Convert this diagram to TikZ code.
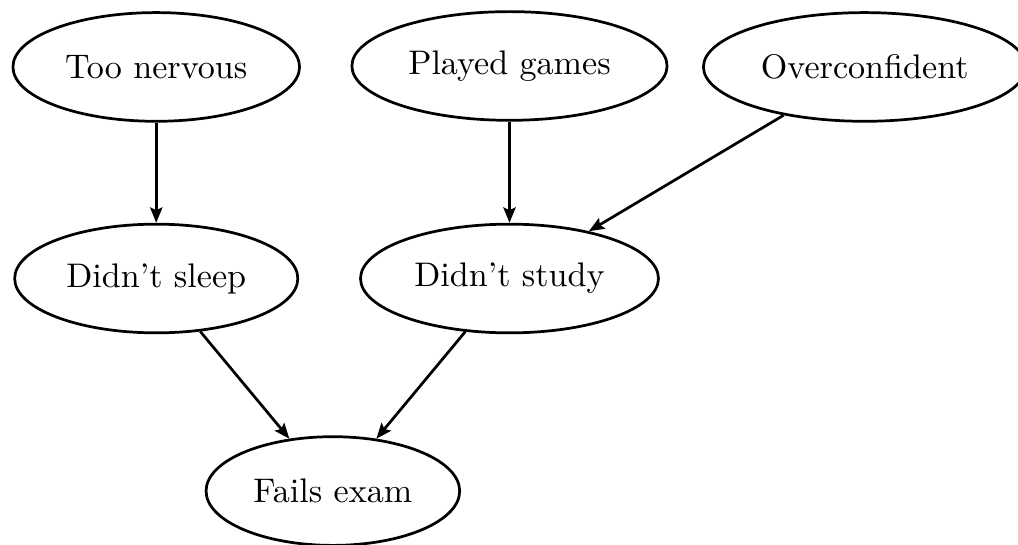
\documentclass[tikz,border=0pt]{standalone}
\usetikzlibrary{shapes.geometric,arrows.meta}
\begin{document}
\begin{tikzpicture}[>={Stealth[length=4.5pt,width=3.6pt,inset=0.8pt]},thick,
	cause/.style={ellipse,draw,inner xsep=3pt,inner ysep=3pt,minimum height=1.12cm}]
			      \useasboundingbox (0,0) rectangle (10.49,5.61);
			      \node (nerv) at (1.61,4.92)[cause]{Too nervous};
			      \node (game) at (5.25,4.93)[cause]{Played games};
			      \node (conf) at (8.91,4.92)[cause]{Overconfident};
			      \node (sleep) at (1.61,2.74)[cause]{Didn't sleep};
			      \node (study) at (5.25,2.74)[cause]{Didn't study};
			      \node (fail) at (3.43,0.55)[cause]{Fails exam};
			      \draw [->](nerv)--(sleep);
			      \draw [->](game)--(study);
			      \draw [->](conf)--(study);
			      \draw [->](sleep)--(fail);
			      \draw [->](study)--(fail);
		      \end{tikzpicture}
\end{document}
